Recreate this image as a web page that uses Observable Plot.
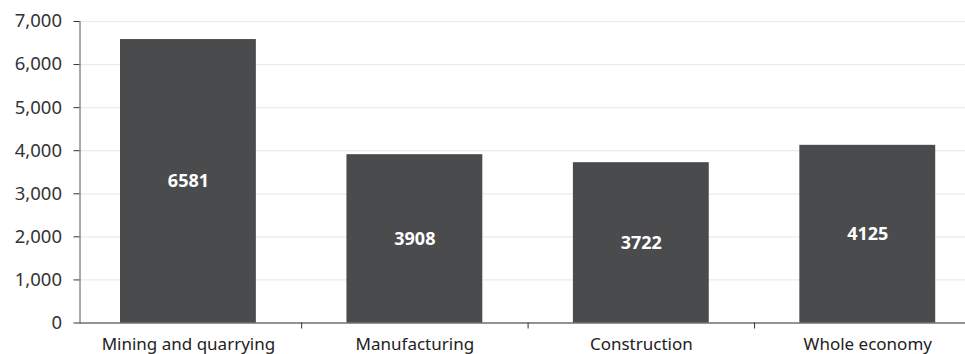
<!DOCTYPE html>
<html>
<head>
<meta charset="utf-8">
<script src="https://cdn.jsdelivr.net/npm/d3@7"></script>
<script src="https://cdn.jsdelivr.net/npm/@observablehq/plot@0.6"></script>
<style>
  html, body { margin: 0; padding: 0; background: #fff; overflow: hidden; }
  #chart svg { display: block; }
</style>
</head>
<body>
<div id="chart"></div>
<script>
const categories = ["Mining and quarrying", "Manufacturing", "Construction", "Whole economy"];
const values = [6581, 3908, 3722, 4125];
const yTicks = [0, 1000, 2000, 3000, 4000, 5000, 6000, 7000];

const data = categories.map((c, i) => ({category: c, index: i, value: values[i]}));
const labelPositions = categories.map((c, i) => i + 0.5);
const boundaries = categories.slice(1).map((c, i) => i + 1);

const font = "'Noto Sans', sans-serif";
const fmt = d3.format(",");

const chart = Plot.plot({
  width: 965,
  height: 354,
  marginTop: 21,
  marginBottom: 31.5,
  marginLeft: 79.5,
  marginRight: 0,
  x: {type: "linear", domain: [0, categories.length], range: [74.7, 980.5], label: null},
  y: {domain: [0, 7000], label: null},
  style: {fontFamily: font, color: "#333", background: "#fff"},
  marks: [
    Plot.gridY(yTicks, {stroke: "#ebebeb", strokeOpacity: 1, strokeWidth: 1.2}),
    Plot.rectY(data, {x1: d => d.index + 0.2, x2: d => d.index + 0.8, y: "value", fill: "#4a4b4d"}),
    Plot.text(data, {x: d => d.index + 0.5, y: d => d.value / 2, text: d => String(d.value),
      fill: "white", fontWeight: "bold", fontSize: 18}),
    Plot.axisY(yTicks, {tickSize: 6, tickPadding: 12, tickFormat: fmt, fontSize: 18.5,
      stroke: "#333", fill: "#333", label: null}),
    Plot.axisX(labelPositions, {tickSize: 0, tickPadding: 15, fontSize: 17, fill: "#222", label: null,
      tickFormat: d => categories[Math.floor(d)]}),
    Plot.axisX(boundaries, {tickSize: 6, tickFormat: () => "", stroke: "#333", label: null}),
    Plot.ruleY([0], {stroke: "#333", strokeWidth: 1.2}),
    Plot.frame({anchor: "left", stroke: "#555"})
  ]
});

document.getElementById("chart").append(chart);
</script>
</body>
</html>
